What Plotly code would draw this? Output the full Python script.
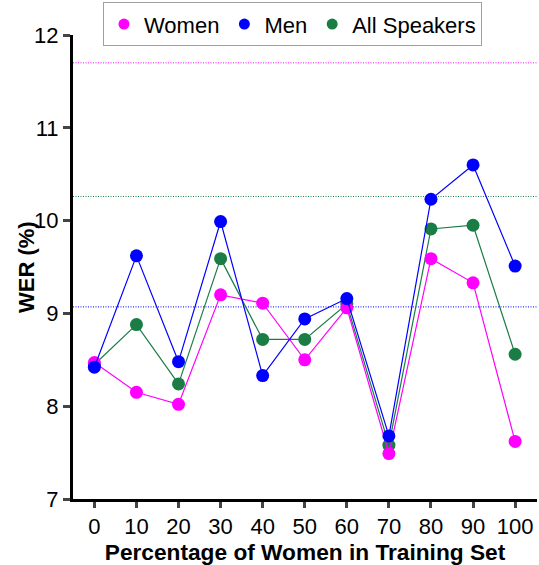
import plotly.graph_objects as go

pct = [0, 10, 20, 30, 40, 50, 60, 70, 80, 90, 100]
women = [8.47, 8.15, 8.02, 9.20, 9.11, 8.50, 9.06, 7.49, 9.59, 9.33, 7.62]
men = [8.42, 9.62, 8.48, 9.99, 8.33, 8.94, 9.16, 7.68, 10.23, 10.60, 9.51]
all_sp = [8.45, 8.88, 8.24, 9.59, 8.72, 8.72, 9.10, 7.58, 9.91, 9.95, 8.56]

ref_lines = {"women": 11.70, "all": 10.26, "men": 9.07}

c_w = "#ff00ff"
c_m = "#0000ff"
c_a = "#1a7d45"

FONT = "Liberation Sans, Arial, sans-serif"

fig = go.Figure()
for name, vals, col, rank in [("All Speakers", all_sp, c_a, 3),
                              ("Women", women, c_w, 1),
                              ("Men", men, c_m, 2)]:
    fig.add_trace(go.Scatter(
        x=pct, y=vals, name=name, mode="lines+markers",
        line=dict(color=col, width=1.2),
        marker=dict(color=col, size=13),
        showlegend=False, cliponaxis=False,
    ))
    # legend entry (marker only)
    fig.add_trace(go.Scatter(
        x=[None], y=[None], name=name, mode="markers",
        marker=dict(color=col, size=11), legendrank=rank, showlegend=True,
    ))

for key, col in [("women", c_w), ("all", c_a), ("men", c_m)]:
    fig.add_shape(type="line", xref="paper", yref="y", x0=0, x1=1,
                  y0=ref_lines[key], y1=ref_lines[key],
                  line=dict(color=col, width=1, dash="1px,1.5px"), layer="below")

fig.add_annotation(text="<b>WER (%)</b>", xref="paper", yref="paper",
                   x=(26 - 73) / 464, y=0.5, xanchor="center", yanchor="middle",
                   textangle=-90, showarrow=False, font=dict(size=22))

fig.update_layout(
    width=539, height=565,
    margin=dict(l=73, r=2, t=35.4, b=66.4, autoexpand=False),
    plot_bgcolor="white", paper_bgcolor="white",
    font=dict(family=FONT, color="black", size=22),
    showlegend=True,
    legend=dict(orientation="h", x=0.473, xanchor="center", y=1.0706, yanchor="top",
                bordercolor="#a0a0a0", borderwidth=1, font=dict(size=22),
                itemwidth=30),
    xaxis=dict(range=[-5.08, 105.2], tickvals=pct, ticks="outside", ticklen=6,
               tickwidth=2.5, showline=True, linewidth=3, linecolor="black",
               showgrid=False, zeroline=False, tickfont=dict(size=22),
               title=dict(text="<b>Percentage of Women in Training Set</b>",
                          font=dict(size=22.7), standoff=0)),
    yaxis=dict(range=[7, 12], tickvals=[7, 8, 9, 10, 11, 12], ticks="outside",
               ticklen=7, tickwidth=2.5, showline=True, linewidth=3,
               linecolor="black", showgrid=False, zeroline=False,
               tickfont=dict(size=22)),
)

fig.write_html("out.html", post_script="document.body.style.margin='0px';",
               config={"displayModeBar": False})
